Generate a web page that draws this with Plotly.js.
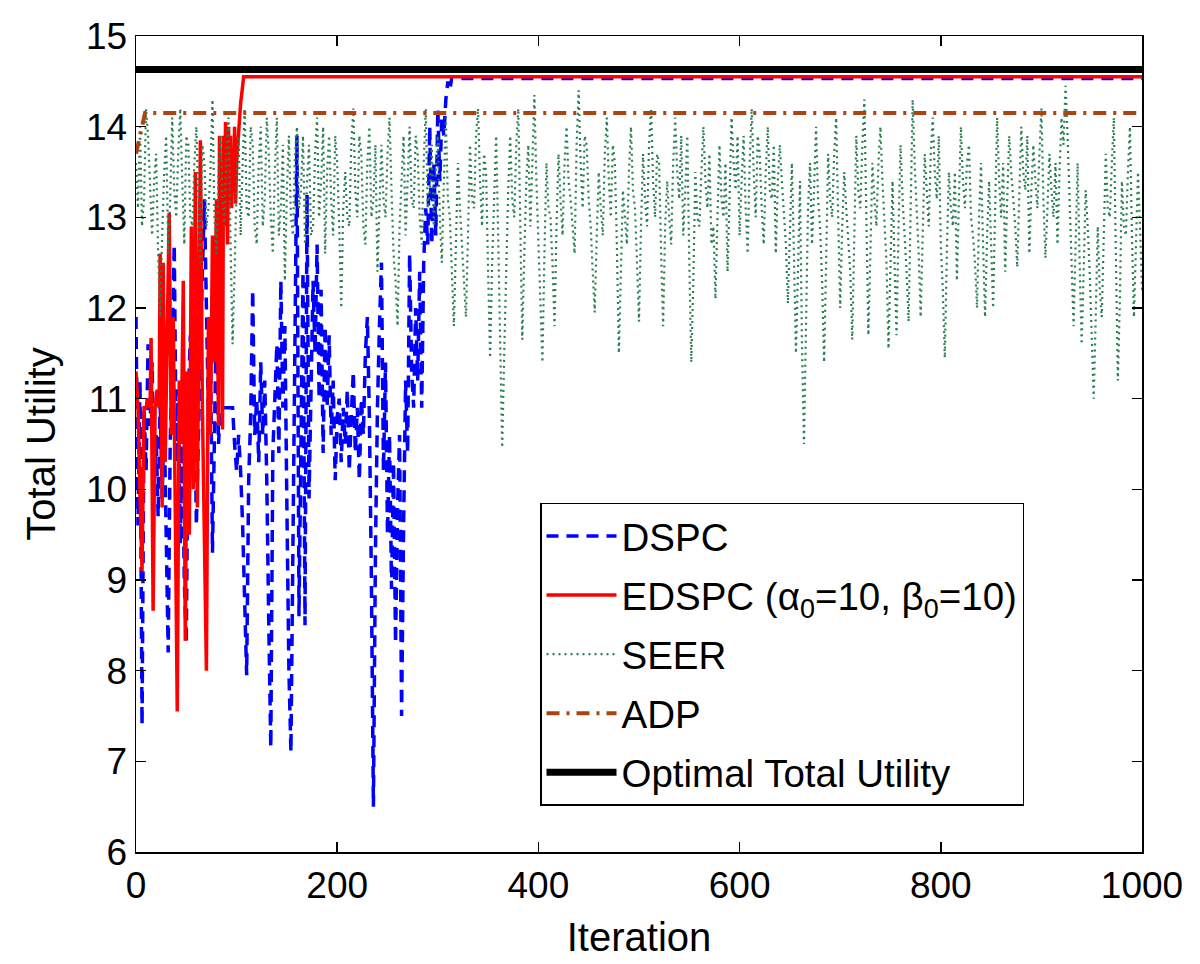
<!DOCTYPE html>
<html>
<head>
<meta charset="utf-8">
<script src="https://cdn.plot.ly/plotly-3.0.1.min.js"></script>
<style>html,body{margin:0;padding:0;background:#fff;}#chart{width:1200px;height:964px;}</style>
</head>
<body>
<div id="chart"></div>
<script>
// ---------- data ----------
const dspcIter = [0,2,4,6,8,10,12,14,16,18,20,22,24,26,28,30,32,34,36,38,40,42,44,46,48,50,52,54,56,58,60,62,64,66,68,70,72,74,76,78,80,82,84,86,88,90,92,94,96,98,100,102,104,106,108,110,112,114,116,118,120,122,124,126,128,130,132,134,136,138,140,142,144,146,148,150,152,154,156,158,160,162,164,166,168,170,172,174,176,178,180,182,184,186,188,190,192,194,196,198,200,202,204,206,208,210,212,214,216,218,220,222,224,226,228,230,232,234,236,238,240,242,244,246,248,250,252,254,256,258,260,262,264,266,268,270,272,274,276,278,280,282,284,286,288,290,292,294,296,298,300,302,304,306,308,310,312,314,316,1000];
const dspcVal = [11.9,9.6,11.2,7.4,10.9,10.2,11.6,10.7,11.4,9.9,10.6,9.7,11.0,9.9,10.8,9.2,8.2,10.5,11.8,12.7,10.3,11.1,9.4,10.6,9.0,8.3,11.0,11.7,10.2,11.3,9.6,10.8,11.5,12.4,13.2,12.0,10.8,11.6,9.3,10.6,12.0,10.5,10.9,10.9,10.9,10.9,10.9,10.9,10.9,10.5,10.2,10.6,10.2,9.6,8.6,7.95,10.1,10.8,12.2,10.6,11.0,10.3,11.4,10.6,11.2,10.1,8.5,7.15,10.4,11.0,11.6,10.4,12.3,10.9,11.8,9.8,8.0,7.1,9.5,11.5,13.9,8.6,10.8,12.4,8.5,13.25,9.9,11.2,12.3,11.5,12.7,11.0,12.2,10.4,11.8,10.9,11.7,10.6,11.2,10.1,10.8,11.0,10.3,10.9,10.5,11.1,10.2,10.8,11.3,10.4,10.9,10.1,11.0,10.6,11.5,11.9,10.8,9.0,6.5,9.3,10.9,11.8,12.5,10.2,11.4,9.5,10.6,8.9,10.3,8.3,9.8,10.6,7.5,9.6,11.2,10.4,12.6,11.3,10.9,12.0,11.2,12.4,10.9,12.5,13.1,12.7,14.0,12.7,13.6,12.8,14.2,13.4,14.1,13.9,14.3,14.5,14.4,14.55,14.53,14.53];

const edspcIter = [0,2,4,6,8,10,12,14,15,17,19,21,23,24,26,27,29,31,33,35,37,39,41,43,45,47,49,51,53,55,57,59,61,63,64,66,68,70,72,74,76,78,80,82,83,85,86,87,88,89,90,91,92,93,94,95,96,97,98,99,100,101,102,103,104,105,106,107,1000];
const edspcVal = [11.3,10.9,9.9,9.1,10.9,10.9,11.0,10.9,11.67,8.66,10.9,11.1,10.9,12.6,9.8,12.5,10.3,11.5,13.05,10.6,11.9,9.8,7.55,11.2,10.5,12.3,8.33,11.3,9.5,12.9,10.0,13.5,9.8,12.6,13.85,10.9,9.5,8.0,11.9,10.6,12.8,11.4,13.2,10.7,13.9,12.4,10.66,13.9,12.9,14.05,13.2,12.7,14.0,13.4,13.9,13.1,13.7,13.3,14.0,13.15,13.6,13.8,14.0,14.15,14.26,14.35,14.5,14.55,14.55];

const seerStep = 2; // one reading every 2 iterations, iteration 0 to 1000
const seerVal = [
13.6,13.1,14.0,12.9,13.2,14.2,13.9,13.3,12.8,13.4,13.7,12.6,11.9,12.8,13.5,13.9,12.6,13.2,14.1,13.3,
13.0,13.7,14.2,13.4,12.7,13.9,13.8,13.0,12.9,13.6,14.0,13.2,12.5,13.8,13.6,12.9,13.1,13.5,14.3,13.0,
12.6,13.5,13.9,13.2,12.9,13.8,14.1,12.7,11.6,12.4,13.4,13.9,12.8,13.6,14.2,13.1,13.0,14.0,13.8,12.9,
12.7,13.6,14.0,12.9,13.2,14.1,13.7,13.0,12.6,13.5,14.1,12.8,13.1,13.8,12.3,13.3,13.9,13.0,12.8,13.7,
14.0,13.1,13.3,13.9,12.7,13.4,13.8,12.8,12.9,13.7,14.1,13.0,13.4,14.0,12.6,13.5,13.9,13.2,12.8,13.9,
13.6,12.9,12.0,13.1,13.5,13.0,12.9,13.8,14.2,13.3,13.0,13.9,13.7,12.9,12.7,13.6,14.0,13.0,13.2,13.8,
12.4,13.1,13.8,13.2,13.0,13.7,14.1,13.3,12.6,12.3,11.8,12.9,13.4,13.9,12.8,13.5,14.0,13.2,13.1,13.9,
13.7,13.0,12.7,13.6,14.2,13.1,13.3,13.8,12.9,13.5,13.9,13.0,12.5,13.4,14.1,13.2,13.0,12.4,11.8,12.7,
13.6,13.1,12.7,12.3,11.9,12.8,13.8,13.2,13.1,13.9,14.2,13.4,12.9,13.7,13.5,12.4,11.45,12.5,13.3,13.9,
12.8,11.6,10.46,11.5,12.6,13.3,13.9,13.2,13.0,13.8,14.2,12.9,11.65,12.6,13.4,13.8,12.9,13.6,14.35,13.4,
12.7,12.2,11.4,12.6,13.6,13.1,13.0,12.5,11.8,12.9,13.7,13.2,12.8,13.6,14.0,13.4,13.2,12.9,12.6,13.8,
14.4,13.6,13.1,13.9,13.8,13.2,12.9,12.4,11.95,12.8,13.5,13.1,12.8,13.7,14.1,13.4,13.0,13.8,13.6,12.7,
11.5,12.4,13.3,13.0,12.7,13.5,14.0,13.3,13.1,12.5,11.85,12.9,13.7,13.2,12.9,13.8,14.2,13.4,13.0,13.7,
13.6,12.6,11.8,12.9,13.4,13.0,12.7,13.6,14.1,13.5,13.2,13.9,12.8,13.3,13.9,12.5,11.4,12.3,13.5,13.0,
12.9,13.5,14.0,13.4,13.1,13.7,12.7,12.9,12.1,13.0,13.8,13.2,13.0,13.6,12.4,13.2,14.1,13.6,13.3,13.9,
12.8,13.4,13.9,13.1,12.6,13.6,14.2,13.5,13.0,13.9,13.7,13.1,12.7,13.5,14.0,13.3,13.2,13.8,12.6,13.4,
13.8,13.4,13.0,12.7,12.05,12.9,13.6,12.6,11.5,12.4,13.4,11.6,10.5,11.8,13.1,13.6,12.7,13.3,14.0,13.2,
12.9,12.3,11.4,12.5,13.7,13.2,13.0,13.7,14.1,13.0,12.0,12.9,13.5,13.1,12.8,12.4,11.65,12.8,13.9,13.3,
13.1,13.8,14.3,13.0,11.7,12.6,13.6,13.2,12.9,13.6,14.0,13.4,13.0,12.5,11.55,12.6,13.4,12.5,11.7,12.9,
13.8,13.2,12.8,12.4,11.85,13.1,14.3,13.6,13.1,12.6,11.9,12.8,13.7,13.3,12.9,13.7,14.1,13.5,13.2,13.9,
12.7,12.2,11.45,12.6,13.5,13.1,12.9,13.5,12.3,13.2,14.0,13.4,13.1,13.6,13.8,13.0,12.8,12.5,12.0,13.0,
13.6,12.7,11.9,12.8,13.4,12.7,12.0,13.1,14.1,13.4,13.0,13.6,12.4,13.2,13.9,13.5,13.2,12.9,12.45,13.3,
14.0,13.5,13.3,13.9,12.6,13.3,13.8,13.4,13.1,13.7,14.2,13.2,12.55,13.1,13.7,13.3,13.0,13.6,12.7,13.5,
14.1,13.8,14.45,13.9,13.2,12.6,11.8,12.7,13.6,12.5,11.6,12.4,13.3,12.9,12.4,11.7,11.0,11.9,12.9,12.2,
11.9,12.8,13.7,13.1,13.0,13.6,14.1,12.6,11.2,12.1,13.4,12.9,12.8,13.5,14.0,12.8,11.9,12.7,13.5,12.9,
12.2];

const adpIter = [0,3,6,8,9,1000];
const adpVal = [13.7,13.85,14.0,14.1,14.15,14.15];

const optIter = [0,1000];
const optVal = [14.63,14.63];

const seriesNames = ['DSPC','EDSPC (α<sub>0</sub>=10, β<sub>0</sub>=10)','SEER','ADP','Optimal Total Utility'];
const xTicks = [0,200,400,600,800,1000];
const yTicks = [6,7,8,9,10,11,12,13,14,15];

// ---------- build ----------
const seerIter = seerVal.map((v,i)=>i*seerStep);
const FONT = 'Liberation Sans, Arial, Helvetica, sans-serif';

const traces = [
  {x:dspcIter, y:dspcVal, name:seriesNames[0], mode:'lines', legendgroup:'g1',
   line:{color:'#0000ff', width:3.5, dash:'12px,8px'}},
  {x:edspcIter, y:edspcVal, name:seriesNames[1], mode:'lines', legendgroup:'g2',
   line:{color:'#ff0000', width:3.5}},
  {x:seerIter, y:seerVal, name:seriesNames[2], mode:'lines', legendgroup:'g3',
   line:{color:'#2b7f50', width:2.2, dash:'2px,4px'}},
  {x:adpIter, y:adpVal, name:seriesNames[3], mode:'lines', legendgroup:'g4',
   line:{color:'rgb(170,68,18)', width:4, dash:'13px,7px,3px,7px'}},
  {x:optIter, y:optVal, name:seriesNames[4], mode:'lines', legendgroup:'g5',
   line:{color:'#000000', width:7}}
];

const axisCommon = {
  showline:true, mirror:'ticks', linecolor:'#000', linewidth:1.5,
  ticks:'inside', ticklen:10, tickwidth:1.5, tickcolor:'#000',
  showgrid:false, zeroline:false,
  tickfont:{family:FONT, size:37, color:'#000'}
};

const layout = {
  width:1200, height:964,
  margin:{l:136, r:58, t:36, b:112},
  paper_bgcolor:'#fff', plot_bgcolor:'#fff',
  font:{family:FONT, color:'#000'},
  showlegend:true,
  xaxis:Object.assign({}, axisCommon, {
    range:[0,1000], tickvals:xTicks, ticktext:xTicks.map(String),
    title:{text:'Iteration', font:{family:FONT, size:40, color:'#000'}, standoff:18}
  }),
  yaxis:Object.assign({}, axisCommon, {
    range:[6,15], tickvals:yTicks, ticktext:yTicks.map(String),
    title:{text:'Total Utility', font:{family:FONT, size:40, color:'#000'}, standoff:18}
  }),
  legend:{
    x:0.4016, y:0.4277, xanchor:'left', yanchor:'top',
    bgcolor:'#fff', bordercolor:'#000', borderwidth:1.5,
    font:{family:FONT, size:38.5, color:'#000'},
    itemwidth:70, traceorder:'grouped', tracegroupgap:6
  }
};

Plotly.newPlot('chart', traces, layout, {staticPlot:true, displayModeBar:false});
</script>
</body>
</html>
